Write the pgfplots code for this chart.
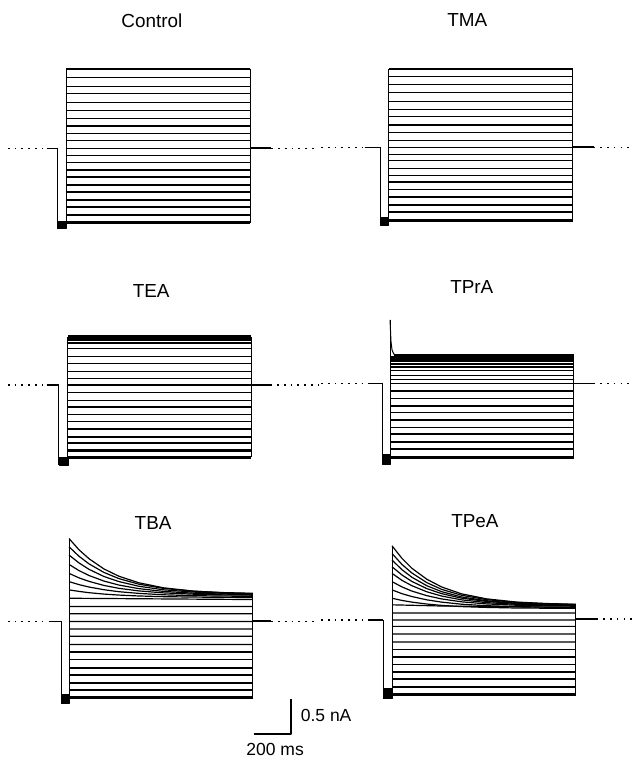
\documentclass[border=0pt]{standalone}
\usepackage{pgfplots}
\pgfplotsset{compat=1.18}
\usepackage{fontspec}
\setmainfont{Liberation Sans}
\tikzset{
  tr/.style={line width=0.6pt},
  trB/.style={line width=0.8pt},
  trC/.style={line width=1.0pt},
  trD/.style={line width=1.25pt},
  band/.style={line width=1.0pt},
  edge/.style={line width=0.5pt},
  tail/.style={line width=1.0pt},
  dots/.style={line width=0.8pt, dash pattern=on 0.8pt off 2.6pt},
  blob/.style={fill=black, draw=black, line width=0.3pt},
  ttl/.style={font=\fontsize{9.5}{11}\selectfont},
  lbl/.style={font=\fontsize{8.8}{10}\selectfont},
}
\begin{document}
\begin{tikzpicture}
\begin{axis}[
  scale only axis, width=318pt, height=381pt,
  xmin=0, xmax=636, ymin=0, ymax=762, y dir=reverse,
  axis lines=none, clip=false, unbounded coords=jump,
  every axis plot/.append style={black, line join=round, mark=none},
]
\addplot[draw=none, forget plot] coordinates {(0,0)(636,762)};

% ================= Control =================
\node[ttl] at (axis cs:152.8,20.5) {Control};
\addplot[dots] coordinates {(8,149.3)(47,149.3)};
\addplot[tr] coordinates {(47,149.3)(58.3,149.3)};
\addplot[edge] coordinates {(58.3,149.3)(58.3,230)};
\addplot[blob] coordinates {(58.3,222.5)(66.7,222.5)(66.7,230)(58.3,230)} -- cycle;
\addplot[edge] coordinates {(66.7,226)(66.7,69.3)};
\addplot[edge] coordinates {(251.7,69.3)(251.7,224)};
\addplot[tail] coordinates {(251.7,149.3)(273,149.3)};
\addplot[dots] coordinates {(273,149.3)(320,149.3)};
\addplot[tr] coordinates {(66.7,69.3)(251.7,69.3) (0,nan) (66.7,78.3)(251.7,78.3) (0,nan) (66.7,86.7)(251.7,86.7) (0,nan) (66.7,94.3)(251.7,94.3) (0,nan) (66.7,102.7)(251.7,102.7) (0,nan) (66.7,111)(251.7,111) (0,nan) (66.7,119.3)(251.7,119.3) (0,nan) (66.7,126.7)(251.7,126.7) (0,nan) (66.7,134)(251.7,134) (0,nan) (66.7,141.7)(251.7,141.7) (0,nan) (66.7,149.3)(251.7,149.3) (0,nan) (66.7,156.7)(251.7,156.7) (0,nan) (66.7,163.3)(251.7,163.3)};
\addplot[trB] coordinates {(66.7,171)(251.7,171) (0,nan) (66.7,178.3)(251.7,178.3) (0,nan) (66.7,186)(251.7,186) (0,nan) (66.7,193.3)(251.7,193.3)};
\addplot[trC] coordinates {(66.7,200.7)(251.7,200.7) (0,nan) (66.7,208.3)(251.7,208.3)};
\addplot[trD] coordinates {(66.7,216)(251.7,216) (0,nan) (66.7,224)(251.7,224)};

% ================= TMA =================
\node[ttl] at (axis cs:470,20.5) {TMA};
\addplot[dots] coordinates {(323,148.3)(367,148.3)};
\addplot[tr] coordinates {(367,148.3)(382.7,148.3)};
\addplot[edge] coordinates {(382.7,148.3)(382.7,226.7)};
\addplot[blob] coordinates {(382.7,219)(391,219)(391,226.7)(382.7,226.7)} -- cycle;
\addplot[edge] coordinates {(391,222)(391,69.3)};
\addplot[edge] coordinates {(576,69.3)(576,221.7)};
\addplot[tail] coordinates {(576,148.3)(597,148.3)};
\addplot[dots] coordinates {(597,148.3)(636,148.3)};
\addplot[tr] coordinates {(391,69.3)(576,69.3) (0,nan) (391,77.3)(576,77.3) (0,nan) (391,85)(576,85) (0,nan) (391,93.3)(576,93.3) (0,nan) (391,101.7)(576,101.7) (0,nan) (391,110)(576,110) (0,nan) (391,117.3)(576,117.3) (0,nan) (391,125.7)(576,125.7) (0,nan) (391,133.3)(576,133.3) (0,nan) (391,141)(576,141) (0,nan) (391,148.3)(576,148.3) (0,nan) (391,155)(576,155) (0,nan) (391,161.7)(576,161.7)};
\addplot[trB] coordinates {(391,169.3)(576,169.3) (0,nan) (391,176.7)(576,176.7) (0,nan) (391,183.3)(576,183.3) (0,nan) (391,190.7)(576,190.7)};
\addplot[trC] coordinates {(391,198.3)(576,198.3) (0,nan) (391,206)(576,206)};
\addplot[trD] coordinates {(391,213.3)(576,213.3) (0,nan) (391,221.7)(576,221.7)};

% ================= TEA =================
\node[ttl] at (axis cs:152,293) {TEA};
\addplot[dots] coordinates {(8,387.3)(47,387.3)};
\addplot[tr] coordinates {(47,387.3)(59.3,387.3)};
\addplot[edge] coordinates {(59.3,387.3)(59.3,468)};
\addplot[blob] coordinates {(59.3,459.5)(68.3,459.5)(68.3,468)(59.3,468)} -- cycle;
\addplot[edge] coordinates {(68.3,462)(68.3,338.5)};
\addplot[edge] coordinates {(252.7,338.5)(252.7,460)};
\addplot[tail] coordinates {(252.7,387.3)(272,387.3)};
\addplot[dots] coordinates {(272,387.3)(320,387.3)};
\addplot[band] coordinates {(68.3,338.3)(252.7,338.3) (0,nan) (68.3,339.5)(252.7,339.5) (0,nan) (68.3,340.7)(252.7,340.7) (0,nan) (68.3,342)(252.7,342) (0,nan) (68.3,345.3)(252.7,345.3)};
\addplot[tr] coordinates {(68.3,350.7)(252.7,350.7) (0,nan) (68.3,358.3)(252.7,358.3) (0,nan) (68.3,365.7)(252.7,365.7) (0,nan) (68.3,373.3)(252.7,373.3) (0,nan) (68.3,380.7)(252.7,380.7) (0,nan) (68.3,387.3)(252.7,387.3) (0,nan) (68.3,395)(252.7,395) (0,nan) (68.3,402.7)(252.7,402.7)};
\addplot[trB] coordinates {(68.3,409.3)(252.7,409.3) (0,nan) (68.3,416.7)(252.7,416.7) (0,nan) (68.3,424)(252.7,424) (0,nan) (68.3,431.7)(252.7,431.7)};
\addplot[trC] coordinates {(68.3,439.3)(252.7,439.3) (0,nan) (68.3,446)(252.7,446)};
\addplot[trD] coordinates {(68.3,453.3)(252.7,453.3) (0,nan) (68.3,460)(252.7,460)};

% ================= TPrA =================
\node[ttl] at (axis cs:474.5,288.5) {TPrA};
\addplot[dots] coordinates {(323,385.7)(370,385.7)};
\addplot[tr] coordinates {(370,385.7)(384.3,385.7)};
\addplot[edge] coordinates {(384.3,385.7)(384.3,466.7)};
\addplot[blob] coordinates {(384.3,456.5)(392.3,456.5)(392.3,466.7)(384.3,466.7)} -- cycle;
\addplot[edge] coordinates {(392.3,460)(392.3,321.7)};
\addplot[edge] coordinates {(577.3,357.5)(577.3,460)};
\addplot[tail] coordinates {(577.3,385.7)(597,385.7)};
\addplot[dots] coordinates {(597,385.7)(636,385.7)};
\addplot[edge] coordinates {(392.3,321.7)(393.2,343)(394.3,352)(396,356)(399,357.5)};
\addplot[band] coordinates {(396,357.5)(577.3,357.5) (0,nan) (392.3,359.3)(577.3,359.3) (0,nan) (392.3,361.2)(577.3,361.2) (0,nan) (392.3,363.5)(577.3,363.5) (0,nan) (392.3,366)(577.3,366) (0,nan) (392.3,369)(577.3,369)};
\addplot[tr] coordinates {(392.3,373)(577.3,373) (0,nan) (392.3,377.5)(577.3,377.5) (0,nan) (392.3,382)(577.3,382) (0,nan) (392.3,385.7)(577.3,385.7) (0,nan) (392.3,393.3)(577.3,393.3) (0,nan) (392.3,400.7)(577.3,400.7)};
\addplot[trB] coordinates {(392.3,408.3)(577.3,408.3) (0,nan) (392.3,415)(577.3,415) (0,nan) (392.3,422.7)(577.3,422.7) (0,nan) (392.3,430)(577.3,430)};
\addplot[trC] coordinates {(392.3,436.7)(577.3,436.7) (0,nan) (392.3,444.3)(577.3,444.3)};
\addplot[trD] coordinates {(392.3,451.7)(577.3,451.7) (0,nan) (392.3,460)(577.3,460)};

% ================= TBA =================
\node[ttl] at (axis cs:154,526.5) {TBA};
\addplot[dots] coordinates {(8,625)(50,625)};
\addplot[tr] coordinates {(50,625)(61.7,625)};
\addplot[edge] coordinates {(61.7,625)(61.7,707.7)};
\addplot[blob] coordinates {(61.7,698)(69.5,698)(69.5,707.7)(61.7,707.7)} -- cycle;
\addplot[edge] coordinates {(69.5,700)(69.5,541.7)};
\addplot[edge] coordinates {(254.3,597)(254.3,701.7)};
\addplot[tail] coordinates {(254.3,625)(273,625)};
\addplot[dots] coordinates {(273,625)(320,625)};
\addplot[tr] coordinates {(69.5,541.7)(79.5,553.0)(89.5,561.9)(104.5,572.2)(119.5,579.5)(139.5,586.1)(164.5,591.2)(194.5,594.5)(224.5,596.2)(254.3,597.1)};
\addplot[tr] coordinates {(69.5,550)(79.5,559.5)(89.5,567.1)(104.5,575.7)(119.5,581.9)(139.5,587.5)(164.5,591.8)(194.5,594.6)(224.5,596.0)(254.3,596.7)};
\addplot[tr] coordinates {(69.5,558.3)(79.5,566.2)(89.5,572.6)(104.5,579.8)(119.5,584.9)(139.5,589.6)(164.5,593.2)(194.5,595.5)(224.5,596.7)(254.3,597.3)};
\addplot[tr] coordinates {(69.5,567.7)(79.5,573.9)(89.5,578.8)(104.5,584.4)(119.5,588.4)(139.5,592.0)(164.5,594.8)(194.5,596.6)(224.5,597.5)(254.3,598.0)};
\addplot[tr] coordinates {(69.5,576.7)(79.5,581.2)(89.5,584.7)(104.5,588.8)(119.5,591.7)(139.5,594.3)(164.5,596.3)(194.5,597.6)(224.5,598.3)(254.3,598.6)};
\addplot[tr] coordinates {(69.5,585)(79.5,588)(89.5,590.4)(104.5,593.1)(119.5,595.1)(139.5,596.8)(164.5,598.2)(194.5,599.1)(224.5,599.5)(254.3,599.8)};
\addplot[tr] coordinates {(69.5,593.3)(79.5,594.8)(89.5,596.1)(104.5,597.5)(119.5,598.5)(139.5,599.4)(164.5,600.1)(194.5,600.5)(224.5,600.8)(254.3,600.9)};
\addplot[tr] coordinates {(69.5,601.7)(254.3,603) (0,nan) (69.5,610)(254.3,610) (0,nan) (69.5,617.3)(254.3,617.3) (0,nan) (69.5,625)(254.3,625) (0,nan) (69.5,632.7)(254.3,632.7) (0,nan) (69.5,640)(254.3,640) (0,nan) (69.5,648.3)(254.3,648.3)};
\addplot[trB] coordinates {(69.5,655.7)(254.3,655.7) (0,nan) (69.5,663.3)(254.3,663.3) (0,nan) (69.5,671.7)(254.3,671.7)};
\addplot[trC] coordinates {(69.5,679)(254.3,679) (0,nan) (69.5,686.7)(254.3,686.7)};
\addplot[trD] coordinates {(69.5,694)(254.3,694) (0,nan) (69.5,701.7)(254.3,701.7)};

% ================= TPeA =================
\node[ttl] at (axis cs:477.7,524) {TPeA};
\addplot[dots] coordinates {(323,623.5)(372,623.5)};
\addplot[tr] coordinates {(372,623.5)(385.7,623.5)};
\addplot[edge] coordinates {(385.7,623.5)(385.7,702.7)};
\addplot[blob] coordinates {(385.7,692)(394.3,692)(394.3,702.7)(385.7,702.7)} -- cycle;
\addplot[edge] coordinates {(394.3,698)(394.3,549)};
\addplot[edge] coordinates {(579.3,607.8)(579.3,698.3)};
\addplot[tail] coordinates {(579.3,622.5)(600,622.5)};
\addplot[dots] coordinates {(600,622.5)(636,622.5)};
\addplot[tr] coordinates {(394.3,549)(404.3,561.6)(414.3,571.6)(429.3,582.6)(444.3,590.4)(464.3,597.3)(489.3,602.3)(519.3,605.5)(549.3,607.0)(579.3,607.8)};
\addplot[tr] coordinates {(394.3,556.7)(404.3,567.7)(414.3,576.3)(429.3,586.0)(444.3,592.8)(464.3,598.7)(489.3,603.1)(519.3,605.9)(549.3,607.2)(579.3,607.9)};
\addplot[tr] coordinates {(394.3,563.3)(404.3,573.0)(414.3,580.6)(429.3,589.1)(444.3,595.1)(464.3,600.4)(489.3,604.2)(519.3,606.7)(549.3,607.9)(579.3,608.5)};
\addplot[tr] coordinates {(394.3,570)(404.3,578.3)(414.3,584.8)(429.3,592.0)(444.3,597.1)(464.3,601.6)(489.3,604.9)(519.3,607.0)(549.3,608.0)(579.3,608.5)};
\addplot[tr] coordinates {(394.3,576.7)(404.3,583.7)(414.3,589.1)(429.3,595.2)(444.3,599.5)(464.3,603.3)(489.3,606.1)(519.3,607.8)(549.3,608.7)(579.3,609.1)};
\addplot[tr] coordinates {(394.3,585)(404.3,590.3)(414.3,594.5)(429.3,599.1)(444.3,602.4)(464.3,605.3)(489.3,607.4)(519.3,608.7)(549.3,609.4)(579.3,609.7)};
\addplot[tr] coordinates {(394.3,593.3)(404.3,597.1)(414.3,600.0)(429.3,603.3)(444.3,605.6)(464.3,607.7)(489.3,609.2)(519.3,610.1)(549.3,610.6)(579.3,610.8)};
\addplot[tr] coordinates {(394.3,601.7)(404.3,603.9)(414.3,605.6)(429.3,607.5)(444.3,608.9)(464.3,610.1)(489.3,610.9)(519.3,611.5)(549.3,611.7)(579.3,611.9)};
\addplot[tr] coordinates {(394.3,608.3)(444.3,609.5)(579.3,611) (0,nan) (394.3,616.5)(579.3,616.5) (0,nan) (394.3,623.5)(579.3,623.5) (0,nan) (394.3,630)(579.3,630) (0,nan) (394.3,637.7)(579.3,637.7) (0,nan) (394.3,645.7)(579.3,645.7)};
\addplot[trB] coordinates {(394.3,653.3)(579.3,653.3) (0,nan) (394.3,661)(579.3,661) (0,nan) (394.3,668.3)(579.3,668.3)};
\addplot[trC] coordinates {(394.3,676)(579.3,676) (0,nan) (394.3,683.3)(579.3,683.3)};
\addplot[trD] coordinates {(394.3,690.7)(579.3,690.7) (0,nan) (394.3,698.3)(579.3,698.3)};

% ================= scale bar =================
\addplot[line width=0.6pt] coordinates {(255,738.3)(292.7,738.3)(292.7,703.3)};
\node[lbl, anchor=west] at (axis cs:295.5,719.5) {0.5 nA};
\node[lbl] at (axis cs:276.7,753.5) {200 ms};
\end{axis}
\end{tikzpicture}
\end{document}
